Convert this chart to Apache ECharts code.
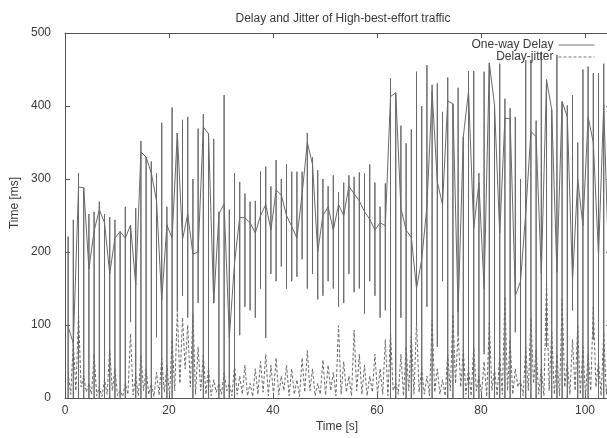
<!DOCTYPE html>
<html>
<head>
<meta charset="utf-8">
<script src="https://cdn.jsdelivr.net/npm/echarts@6/dist/echarts.min.js"></script>
<style>
html,body{margin:0;padding:0;overflow:hidden;background:#fff;width:607px;height:438px;}
#c{width:620px;height:438px;}
</style>
</head>
<body>
<div id="c"></div>
<script>
// ---- data ----
const titleText = 'Delay and Jitter of High-best-effort traffic';
const xTicks = [0, 20, 40, 60, 80, 100];
const yTicks = [0, 100, 200, 300, 400, 500];

// sample times (s) of each delay burst
const times = [0.6,1.6,2.6,3.6,4.6,5.6,6.6,7.6,8.6,9.6,10.6,11.6,12.6,13.6,14.6,15.6,16.6,17.6,18.6,19.6,
  20.6,21.6,22.6,23.6,24.6,25.6,26.6,27.6,28.6,29.6,30.6,31.6,32.6,33.6,34.6,35.6,36.6,37.6,38.6,39.6,
  40.6,41.6,42.6,43.6,44.6,45.6,46.6,47.6,48.6,49.6,50.6,51.6,52.6,53.6,54.6,55.6,56.6,57.6,58.6,59.6,
  60.6,61.6,62.6,63.6,64.6,65.6,66.6,67.6,68.6,69.6,70.6,71.6,72.6,73.6,74.6,75.6,76.6,77.6,78.6,79.6,
  80.6,81.6,82.6,83.6,84.6,85.6,86.6,87.6,88.6,89.6,90.6,91.6,92.6,93.6,94.6,95.6,96.6,97.6,98.6,99.6,
  100.6,101.6,102.6,103.6,104.6];
// one-way delay (ms): highest, lowest and settled value of each burst
const delayTop = [221,244,308,288,252,255,269,252,248,244,227,262,237,260,352,330,324,308,377,262,
  398,363,381,385,300,369,389,362,355,255,415,258,308,
  296,280,269,270,310,317,290,326,300,320,310,310,310,363,330,312,300,290,305,282,295,305,303,309,308,320,295,262,294,438,418,373,349,368,447,
  400,456,429,431,392,439,404,425,358,448,448,308,447,459,401,458,410,397,385,300,463,463,380,474,436,395,470,406,401,415,350,450,454,445,445,458,420];
const delayBottom = [0,0,0,0,0,0,0,0,0,0,0,0,104,0,0,0,0,83,0,0,0,120,140,110,0,130,0,0,130,0,0,0,0,
  86,125,120,110,150,82,170,160,180,150,160,166,190,150,170,135,140,160,150,125,130,170,145,150,115,160,140,110,120,0,0,110,0,0,100,
  0,125,0,70,160,0,0,88,0,0,0,0,60,0,0,0,0,0,90,0,0,0,0,0,70,0,0,0,0,120,0,0,0,80,0,0,0];
const delayMid = [98,75,289,288,177,229,258,240,170,219,228,219,237,155,337,330,308,270,134,237,
  219,363,217,252,197,200,371,362,130,252,266,83,185,
  247,247,240,226,250,265,230,285,278,250,235,219,280,350,320,200,250,262,230,265,250,290,280,270,255,245,230,240,236,413,418,260,230,220,150,
  190,262,420,296,265,407,403,118,358,420,232,295,150,459,401,225,383,383,140,160,253,365,358,170,436,395,172,406,385,160,300,236,385,350,195,402,170];

// delay-jitter (ms): peak at each burst time and low value half a second later
const jitterLowTimes = [1.1,2.1,3.1,4.1,5.1,6.1,7.1,8.1,9.1,10.1,11.1,12.1,13.1,14.1,15.1,16.1,17.1,18.1,19.1,20.1,
  21.1,22.1,23.1,24.1,25.1,26.1,27.1,28.1,29.1,30.1,31.1,32.1,33.1,34.1,35.1,36.1,37.1,38.1,39.1,40.1,
  41.1,42.1,43.1,44.1,45.1,46.1,47.1,48.1,49.1,50.1,51.1,52.1,53.1,54.1,55.1,56.1,57.1,58.1,59.1,60.1,
  61.1,62.1,63.1,64.1,65.1,66.1,67.1,68.1,69.1,70.1,71.1,72.1,73.1,74.1,75.1,76.1,77.1,78.1,79.1,80.1,
  81.1,82.1,83.1,84.1,85.1,86.1,87.1,88.1,89.1,90.1,91.1,92.1,93.1,94.1,95.1,96.1,97.1,98.1,99.1,100.1,
  101.1,102.1,103.1,104.1,105.1];
const jitterPeak = [35,77,114,30,20,60,15,25,66,40,10,20,88,30,58,40,20,35,54,45,80,120,110,100,115,70,60,40,25,20,35,20,45,
  30,45,20,40,50,60,45,55,30,45,40,25,55,65,40,20,52,45,35,99,50,30,93,60,45,30,60,40,80,90,20,60,70,85,104,
  40,30,107,40,25,60,115,90,66,40,70,30,50,103,40,60,139,80,40,25,70,110,66,40,159,90,60,135,50,80,100,70,60,126,50,90,40];
const jitterLow = [5,10,15,8,5,3,2,5,10,3,2,5,4,3,10,5,2,4,8,3,10,20,40,15,5,10,5,3,8,5,10,3,5,
  5,3,2,5,8,3,5,4,10,3,5,2,8,10,3,5,4,10,3,5,8,3,10,5,3,8,4,5,3,10,5,3,10,5,8,
  5,3,8,5,3,10,20,15,5,3,10,5,2,10,3,5,10,5,15,3,10,20,5,3,10,5,3,15,5,10,5,3,10,15,3,5,5];

// ---- build series from the arrays ----
const delayData = [];
for (let i = 0; i < times.length; i++) {
  delayData.push([times[i], delayMid[i]], [times[i], delayTop[i]], [times[i], delayBottom[i]], [times[i], delayMid[i]]);
}
const jitterData = [];
for (let i = 0; i < times.length; i++) {
  jitterData.push([times[i], jitterPeak[i]], [jitterLowTimes[i], jitterLow[i]]);
}

const FONT = '"Liberation Sans", Arial, sans-serif';
const TXT = '#3a3a3a';
const FRAME = '#555';
const LINE = '#6a6a6a';

const chart = echarts.init(document.getElementById('c'), null, {renderer: 'canvas'});
const baseX = {
  type: 'value', min: 0, max: 105, interval: 20,
  axisLine: {show: true, onZero: false, lineStyle: {color: FRAME, width: 1}},
  axisTick: {show: true, inside: true, length: 5, lineStyle: {color: FRAME}},
  splitLine: {show: false}
};
const baseY = {
  type: 'value', min: 0, max: 500, interval: 100,
  axisLine: {show: true, onZero: false, lineStyle: {color: FRAME, width: 1}},
  axisTick: {show: true, inside: true, length: 5, lineStyle: {color: FRAME}},
  splitLine: {show: false}
};
chart.setOption({
  animation: false,
  backgroundColor: '#fff',
  textStyle: {fontFamily: FONT},
  title: {
    text: titleText, left: 338, top: 8, textAlign: 'center',
    textStyle: {fontFamily: FONT, fontSize: 12, fontWeight: 'normal', color: TXT}
  },
  grid: {left: 65, right: 9, top: 33, bottom: 40, outerBoundsMode: 'none', containLabel: false},
  legend: {
    data: ['One-way Delay', 'Delay-jitter'],
    orient: 'vertical', right: 25, top: 39, align: 'right',
    itemWidth: 36, itemHeight: 12, itemGap: 0, padding: 0,
    itemStyle: {opacity: 0},
    lineStyle: {width: 1, color: '#777'},
    textStyle: {fontFamily: FONT, fontSize: 12, color: TXT, padding: [0, 0, 0, 0]},
    selectedMode: false
  },
  xAxis: [
    Object.assign({}, baseX, {
      position: 'bottom',
      axisLabel: {show: true, margin: 7, fontFamily: FONT, fontSize: 12, color: TXT,
        formatter: v => (xTicks.indexOf(v) >= 0 ? String(v) : '')}
    }),
    Object.assign({}, baseX, {position: 'top', axisLabel: {show: false}})
  ],
  yAxis: [
    Object.assign({}, baseY, {
      position: 'left',
      axisLabel: {show: true, margin: 14, fontFamily: FONT, fontSize: 12, color: TXT,
        formatter: v => (yTicks.indexOf(v) >= 0 ? String(v) : '')}
    }),
    Object.assign({}, baseY, {position: 'right', axisLabel: {show: false}})
  ],
  graphic: [
    {type: 'text', x: 15, y: 203, rotation: Math.PI / 2,
      style: {text: 'Time [ms]', font: '12px ' + FONT, fill: TXT, align: 'center', verticalAlign: 'middle'}},
    {type: 'text', x: 337, y: 427,
      style: {text: 'Time [s]', font: '12px ' + FONT, fill: TXT, align: 'center', verticalAlign: 'middle'}}
  ],
  series: [
    {
      name: 'One-way Delay', type: 'line', data: delayData,
      xAxisIndex: 0, yAxisIndex: 0,
      symbol: 'none', showSymbol: false, smooth: false,
      lineStyle: {color: LINE, width: 1},
      itemStyle: {color: LINE},
      emphasis: {disabled: true}
    },
    {
      name: 'Delay-jitter', type: 'line', data: jitterData,
      xAxisIndex: 0, yAxisIndex: 0,
      symbol: 'none', showSymbol: false, smooth: false,
      lineStyle: {color: LINE, width: 1, type: [3, 2]},
      itemStyle: {color: LINE},
      emphasis: {disabled: true}
    }
  ]
});
</script>
</body>
</html>
